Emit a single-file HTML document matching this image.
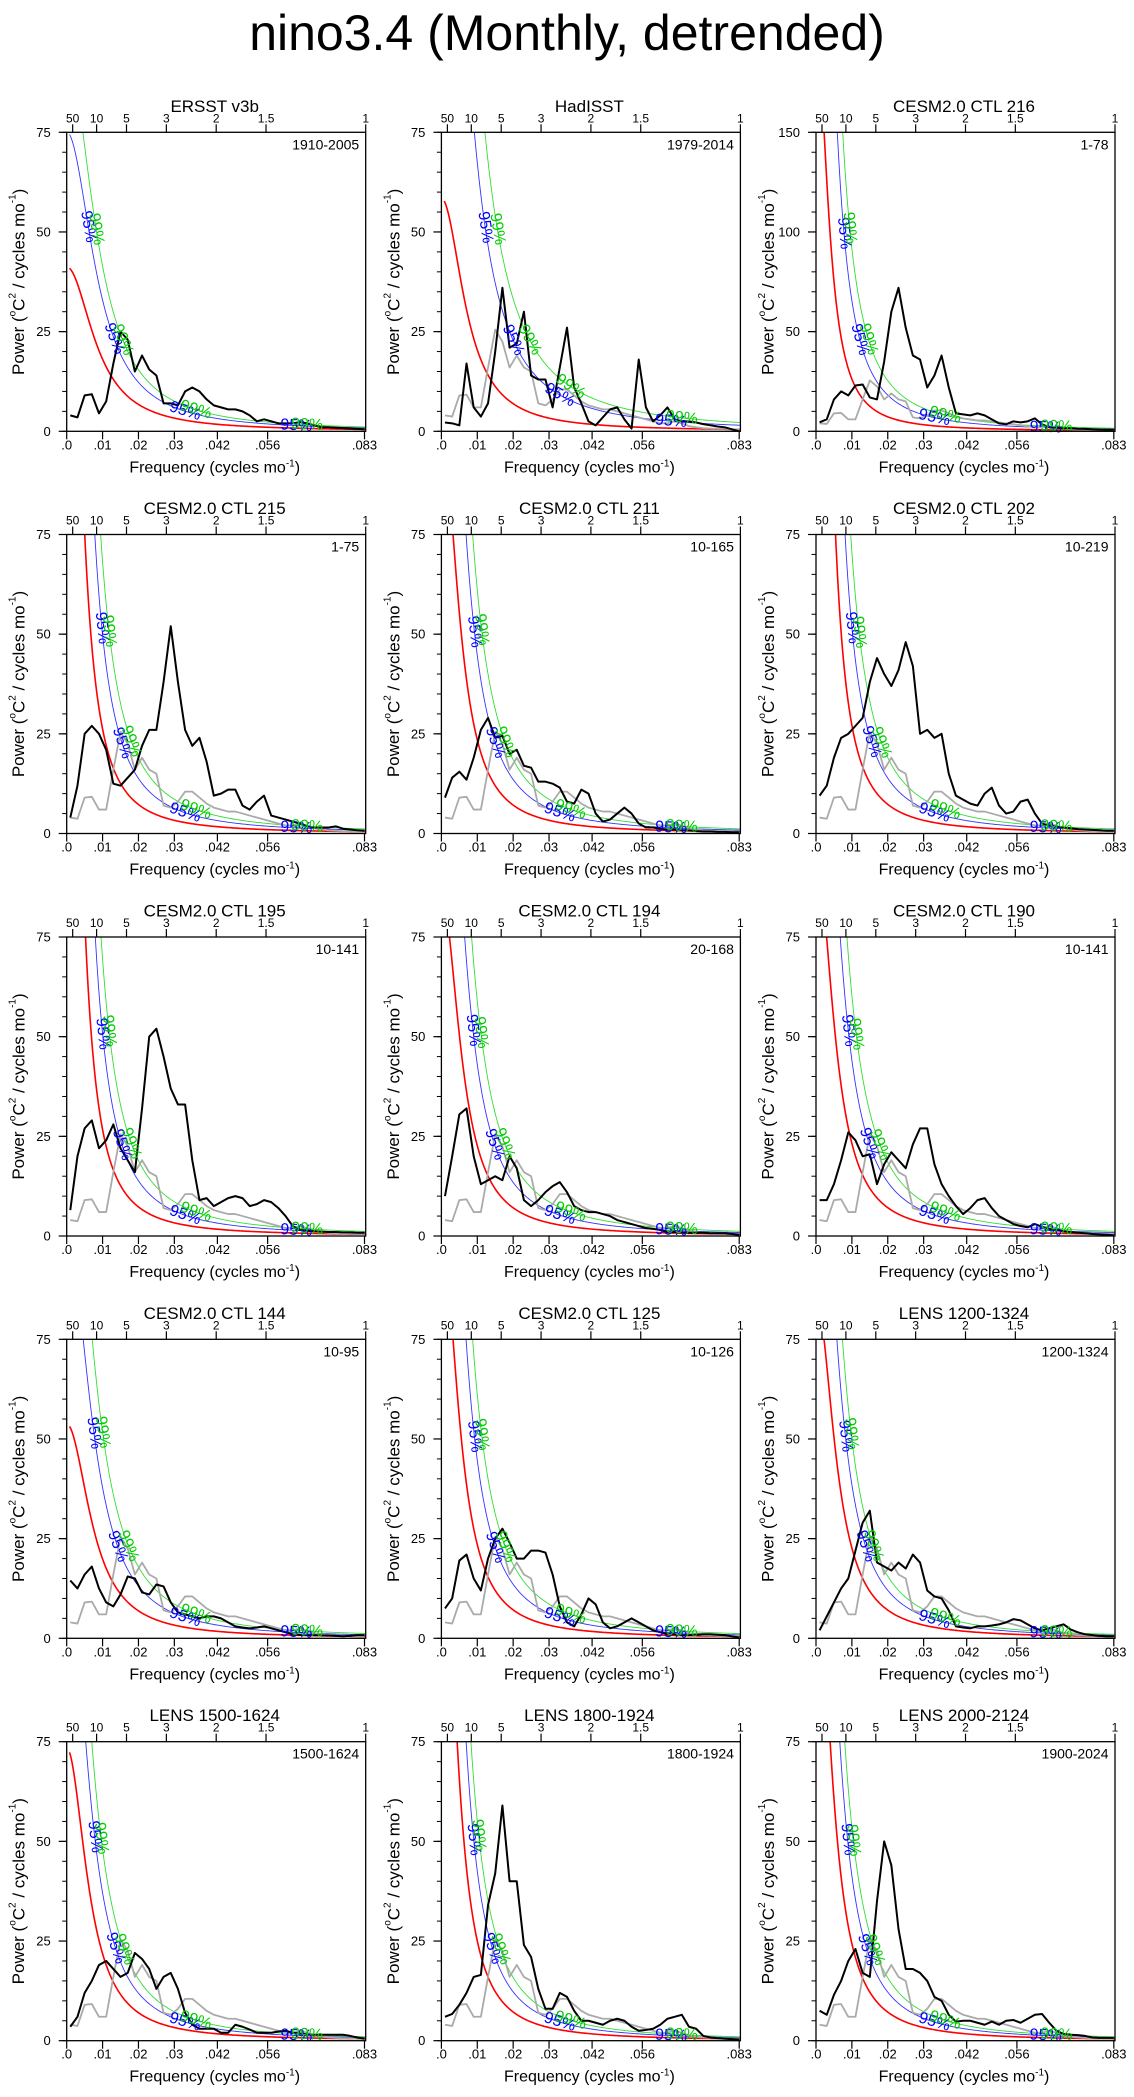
<!DOCTYPE html>
<html><head><meta charset="utf-8"><title>nino3.4 spectra</title>
<style>
html,body{margin:0;padding:0;background:#fff;}
svg{display:block;font-family:"Liberation Sans",Arial,sans-serif;}
</style></head>
<body>
<svg id="chart" width="1134" height="2097" viewBox="0 0 1134 2097" xmlns="http://www.w3.org/2000/svg">
<rect width="1134" height="2097" fill="#fff"/>
<text x="567" y="50" font-size="50" text-anchor="middle" fill="#000">nino3.4 (Monthly, detrended)</text>
</svg>
<script>
// ---- data ----
const panelTitles = ["ERSST v3b","HadISST","CESM2.0 CTL 216","CESM2.0 CTL 215","CESM2.0 CTL 211","CESM2.0 CTL 202","CESM2.0 CTL 195","CESM2.0 CTL 194","CESM2.0 CTL 190","CESM2.0 CTL 144","CESM2.0 CTL 125","LENS 1200-1324","LENS 1500-1624","LENS 1800-1924","LENS 2000-2124"];
const rangeLabels = ["1910-2005","1979-2014","1-78","1-75","10-165","10-219","10-141","20-168","10-141","10-95","10-126","1200-1324","1500-1624","1800-1924","1900-2024"];
const yMaxes = [75,75,150,75,75,75,75,75,75,75,75,75,75,75,75];
const yMajorTicks75 = [0,25,50,75];
const yMajorTicks150 = [0,50,100,150];
const xTickValues = [0,0.01,0.02,0.03,0.042,0.056,0.083];
const xTickLabels = [".0",".01",".02",".03",".042",".056",".083"];
const periodTickYears = [50,10,5,3,2,1.5,1];
const periodTickLabels = ["50","10","5","3","2","1.5","1"];
const freqStart = 0.001, freqStep = 0.002;
const redLag1 = [0.946,0.955,0.976,0.976,0.966,0.980,0.978,0.963,0.965,0.953,0.966,0.963,0.960,0.9715,0.969];
const redAt03 = [3.3,3.3,3.3,3.3,3.3,3.3,3.3,3.3,3.3,3.3,3.3,3.3,3.3,3.3,3.3];
const blueFactor = [1.82,3.3,2.5,1.9,1.9,1.9,1.9,1.9,1.9,1.9,1.9,1.7,1.7,1.7,1.7];
const greenFactor = [2.29,4.8,3.5,2.6,2.6,2.6,2.6,2.6,2.6,2.6,2.6,2.2,2.2,2.2,2.2];
const grayObs = [4,3.7,9,9.2,6,6,16,25.5,22.5,16,19,16,15,7,6.5,8,10.5,10.5,9,7.5,6.5,6,5.5,5.5,5,4.5,4,3.5,3,2.5,2,2,2.5,2,1.3,1,.8,.7,.6,.6,.5,.5];
const sErsst = [4,3.5,9,9.3,4.5,7.5,17,25,23,15,19,15.5,14,7,7,6.5,10,11,10,8,6.5,6,5.5,5.5,5,4,2.5,3,2.5,2,2,2,2.3,2,1.5,1,1,.9,.8,.7,.6,.5];
const sHad = [2.2,2,1.5,17,6,3.7,7,20,36,21,22,30,14,13,13,6,16,26,11,7,2.5,1.5,3.5,5.5,6,3,.7,18,6,2.5,4,6,3,2.5,2.5,2.2,1.8,1.5,1.2,1,.5,0];
const s216 = [4.5,6,16,20,18,23,23.5,17,16,35,60,72,52,38,36,22,28,38,22,9,8.5,8,9,8,6,4,3.5,5,4.5,5,6.5,3.5,2,1.8,1.5,1.5,1.3,1.2,1,.9,.8,.8];
const s215 = [4,12,25,27,25,21,12.5,12,14,16,22,26,26,38,52,38,26,22,24,18,9.5,10,11,11,7,6,8,9.5,4.5,4,3.5,3,2.5,1.8,1.5,1.5,1.5,1.8,1.2,1,.8,.7];
const s211 = [9,14,15.5,13.5,19,26,29,24,24.5,20,21,17,16.5,13,13,12.5,11.5,8,7.5,11,10,5,3,3.5,5,6.5,5,2.5,1.5,1.5,1.2,1,1,.8,.8,.6,.5,.5,.4,.4,.3,.3];
const s202 = [9.5,12,19,24,25,27,29,38,44,40,37,41,48,42,25,26,24,25,15,9.5,8.5,7.5,7,10,11.5,7,5,5.5,8,8.5,5,2.5,2,1.7,1.5,1.3,1.1,1,.9,.8,.7,.7];
const s195 = [6.5,20,27,29,22,24,28,22,19,16,32,50,52,45,37,33,33,19,9,9.5,7.5,8.5,9.5,10,9.5,7.5,8,9,8.5,7,5,2.5,1.5,1.3,1.2,1.1,1,1,.9,.9,.8,.8];
const s194 = [10,20,30.5,32,20,13,14,15,14,20,17,9,7.5,9,11,12.5,13.5,11,7.5,6.5,6,6,5.5,5,4,3.5,3,2.5,2,1.8,1.5,1,1,.9,.8,.8,.8,.7,.7,.7,.5,.3];
const s190 = [9,9,13,19,26,24,20,20.5,13,18,21,19,17,23,27,27,18,13,10,7.5,5.5,7,9,9.5,7,5,4,3,2.5,2.2,3,2.3,1.8,1.5,1.2,1,.8,.7,.5,.4,.3,.2];
const s144 = [14.5,12.5,16,18,12.5,9,8,11,15.5,15,11.5,11,13.5,13,9,6.5,6,5.5,5,5.5,5.5,5,4,3,2.7,2.5,2.7,3,2.5,2,1.5,1,.9,.8,.8,.7,.7,.6,.5,.6,.8,.8];
const s125 = [7.5,10,19.5,21,15,12,20,25,27.5,24,20,20,22,22,21.5,16,8,4,3,6,10,8.5,4,2.5,3,4,5,4,3,2,1.5,1.1,1,.8,.8,.9,1,1,.9,.8,.5,.2];
const sL1200 = [2,5.5,9,12.5,15,22,29,32,19,18,17,19,17.5,21,19,12,10.5,10,7,3,2.7,2.5,3,3,3.2,3.5,4,4.8,4.5,3.5,2.5,2,2.5,3,3.5,2.2,1.5,1,.8,.6,.5,.5];
const sL1500 = [3.5,6,12,15,19,20,18,16,17,22,20.5,18,13,16,17,13,7,4,3,3,3,2,2,4,3.5,2.8,2,2,2,2.3,2.5,2,1.8,1.6,1.5,1.5,1.5,1.5,1.5,1.2,.8,.5];
const sL1800 = [6,6.7,9,12,16,16.5,34,42,59,40,40,24,21,13,8,8,12,11,7.5,5,5,4.5,4,5,5.5,5,3.5,2.5,2.7,3,4,5.5,6,6.5,3.5,3,1.2,.8,.6,.5,.4,.3];
const sL2000 = [7.5,6.5,11.5,15,20,23,17,16,35,50,44,28,18,18,17,15,11,10,6.5,4.8,5,5,4.5,4,4.8,4,5,5.2,4.5,5.5,6.5,6.7,4.5,2.5,1.7,1.5,1.4,1.2,.8,.7,.7,.7];
const blackSeries = [sErsst,sHad,s216,s215,s211,s202,s195,s194,s190,s144,s125,sL1200,sL1500,sL1800,sL2000];

// ---- layout ----
const colLeft = [66.7,441.4,816];
const rowTop = [132.3,534.5,937,1339.3,1741.7];
const PW = 299, PH = 299, FMAX = 1/12;
const NS = "http://www.w3.org/2000/svg";
const svg = document.getElementById("chart");

function mk(tag, attrs, parent){
  const e = document.createElementNS(NS, tag);
  for (const k in attrs) e.setAttribute(k, attrs[k]);
  (parent||svg).appendChild(e);
  return e;
}
function redSpec(f, r, at03){
  const a = (1-r)*(1-r);
  const D = ff => a + 2*r*(1-Math.cos(2*Math.PI*ff));
  return at03*D(0.03)/D(f);
}

panelTitles.forEach((title, p) => {
  const L = colLeft[p%3], T = rowTop[Math.floor(p/3)], B = T+PH, R = L+PW;
  const ymax = yMaxes[p];
  const xs = f => L + f/FMAX*PW;
  const ys = v => B - v/ymax*PH;
  const g = mk("g", {});
  
  
  const clipId = "clip"+p;
  const cp = mk("clipPath", {id: clipId}, g);
  mk("rect", {x:L, y:T, width:PW, height:PH}, cp);

  const tt = mk("text", {x:L+148, y:T-20.5, "font-size":17, "text-anchor":"middle"}, g);
  tt.textContent = title;
  
  
  const rl = mk("text", {x:R-6.5, y:T+17, "font-size":14, "text-anchor":"end"}, g);
  rl.textContent = rangeLabels[p];
  
  

  const dataG = mk("g", {"clip-path":"url(#"+clipId+")"}, g);
  const curve = (fac, color, w, name) => {
    let d = "";
    for (let f = 0.0008; f <= FMAX+0.0001; f += 0.0004){
      const v = Math.min(redSpec(f, redLag1[p], redAt03[p])*fac, ymax*1.6);
      d += (d?"L":"M") + xs(f).toFixed(2) + "," + ys(v).toFixed(2);
    }
    const path = mk("path", {d:d, fill:"none", stroke:color, "stroke-width":w}, dataG);
    
    
  };
  curve(1, "#ff0000", 1.6, "red-noise-curve");
  curve(blueFactor[p], "#3333ff", 0.9, "confidence-95-curve");
  curve(greenFactor[p], "#33dd33", 0.9, "confidence-99-curve");

  const series = (arr, color, w, name) => {
    let d = "";
    arr.forEach((v,i) => { d += (i?"L":"M") + xs(freqStart + i*freqStep).toFixed(2) + "," + ys(v).toFixed(2); });
    const path = mk("path", {d:d, fill:"none", stroke:color, "stroke-width":w, "stroke-linejoin":"round"}, dataG);
    
    
  };
  if (p > 0) series(grayObs, "#aaaaaa", 1.8, "observed-spectrum-gray");
  series(blackSeries[p], "#000000", 2, "spectrum-line");

  const labelAt = (fac, f, color, txt) => {
    const v = redSpec(f, redLag1[p], redAt03[p])*fac;
    const v2 = redSpec(f+0.0004, redLag1[p], redAt03[p])*fac;
    const ang = Math.atan2(ys(v2)-ys(v), xs(f+0.0004)-xs(f))*180/Math.PI;
    const t = mk("text", {x:xs(f), y:ys(v), "font-size":16, fill:color, "text-anchor":"middle", "dominant-baseline":"central", transform:"rotate("+ang.toFixed(1)+" "+xs(f).toFixed(1)+" "+ys(v).toFixed(1)+")"}, g);
    t.textContent = txt;
    
    
  };
  const findF = (fac, v) => { for (let f=0.0008; f<FMAX; f+=0.0002){ if (redSpec(f, redLag1[p], redAt03[p])*fac <= v) return f; } return 0.03; };
  [[blueFactor[p],"#0000ff","95%",0.033,0.064],[greenFactor[p],"#00cc00","99%",0.036,0.067]].forEach(c => {
    labelAt(c[0], findF(c[0], ymax*0.69), c[1], c[2]);
    labelAt(c[0], findF(c[0], ymax*0.31), c[1], c[2]);
    labelAt(c[0], c[3], c[1], c[2]);
    labelAt(c[0], c[4], c[1], c[2]);
  });

  const fr = mk("rect", {x:L, y:T, width:PW, height:PH, fill:"none", stroke:"#000", "stroke-width":1.3}, g);
  
  

  const majors = ymax === 150 ? yMajorTicks150 : yMajorTicks75;
  const minorStep = ymax === 150 ? 10 : 5;
  for (let v = 0; v <= ymax; v += minorStep){
    mk("line", {x1:L-4.5, x2:L, y1:ys(v), y2:ys(v), stroke:"#000", "stroke-width":1}, g);
  }
  majors.forEach(v => {
    mk("line", {x1:L-8, x2:L, y1:ys(v), y2:ys(v), stroke:"#000", "stroke-width":1.2}, g);
    const t = mk("text", {x:L-16, y:ys(v)+4.5, "font-size":13, "text-anchor":"end"}, g);
    t.textContent = String(v);
    
    
  });
  xTickValues.forEach((f,i) => {
    mk("line", {x1:xs(f), x2:xs(f), y1:B, y2:B+8, stroke:"#000", "stroke-width":1.2}, g);
    const t = mk("text", {x:xs(f), y:B+18, "font-size":13, "text-anchor":"middle"}, g);
    t.textContent = xTickLabels[i];
    
    
  });
  periodTickYears.forEach((yr,i) => {
    const f = 1/(yr*12);
    mk("line", {x1:xs(f), x2:xs(f), y1:T, y2:T-8, stroke:"#000", "stroke-width":1.2}, g);
    const t = mk("text", {x:xs(f), y:T-10, "font-size":12, "text-anchor":"middle"}, g);
    t.textContent = periodTickLabels[i];
    
    
  });
  const xt = mk("text", {x:L+148, y:B+41, "font-size":16, "text-anchor":"middle"}, g);
  xt.innerHTML = 'Frequency (cycles mo<tspan dy="-6" font-size="10">-1</tspan><tspan dy="6">)</tspan>';
  
  
  const cx = L-48, cy = T+PH/2;
  const yt = mk("text", {x:cx, y:cy, "font-size":17, "text-anchor":"middle", "dominant-baseline":"central", transform:"rotate(-90 "+cx+" "+cy+")"}, g);
  yt.innerHTML = 'Power (<tspan dy="-6" font-size="10">o</tspan><tspan dy="6">C</tspan><tspan dy="-6" font-size="10">2</tspan><tspan dy="6"> / cycles mo</tspan><tspan dy="-6" font-size="10">-1</tspan><tspan dy="6">)</tspan>';
  
  
});
</script>
</body></html>
